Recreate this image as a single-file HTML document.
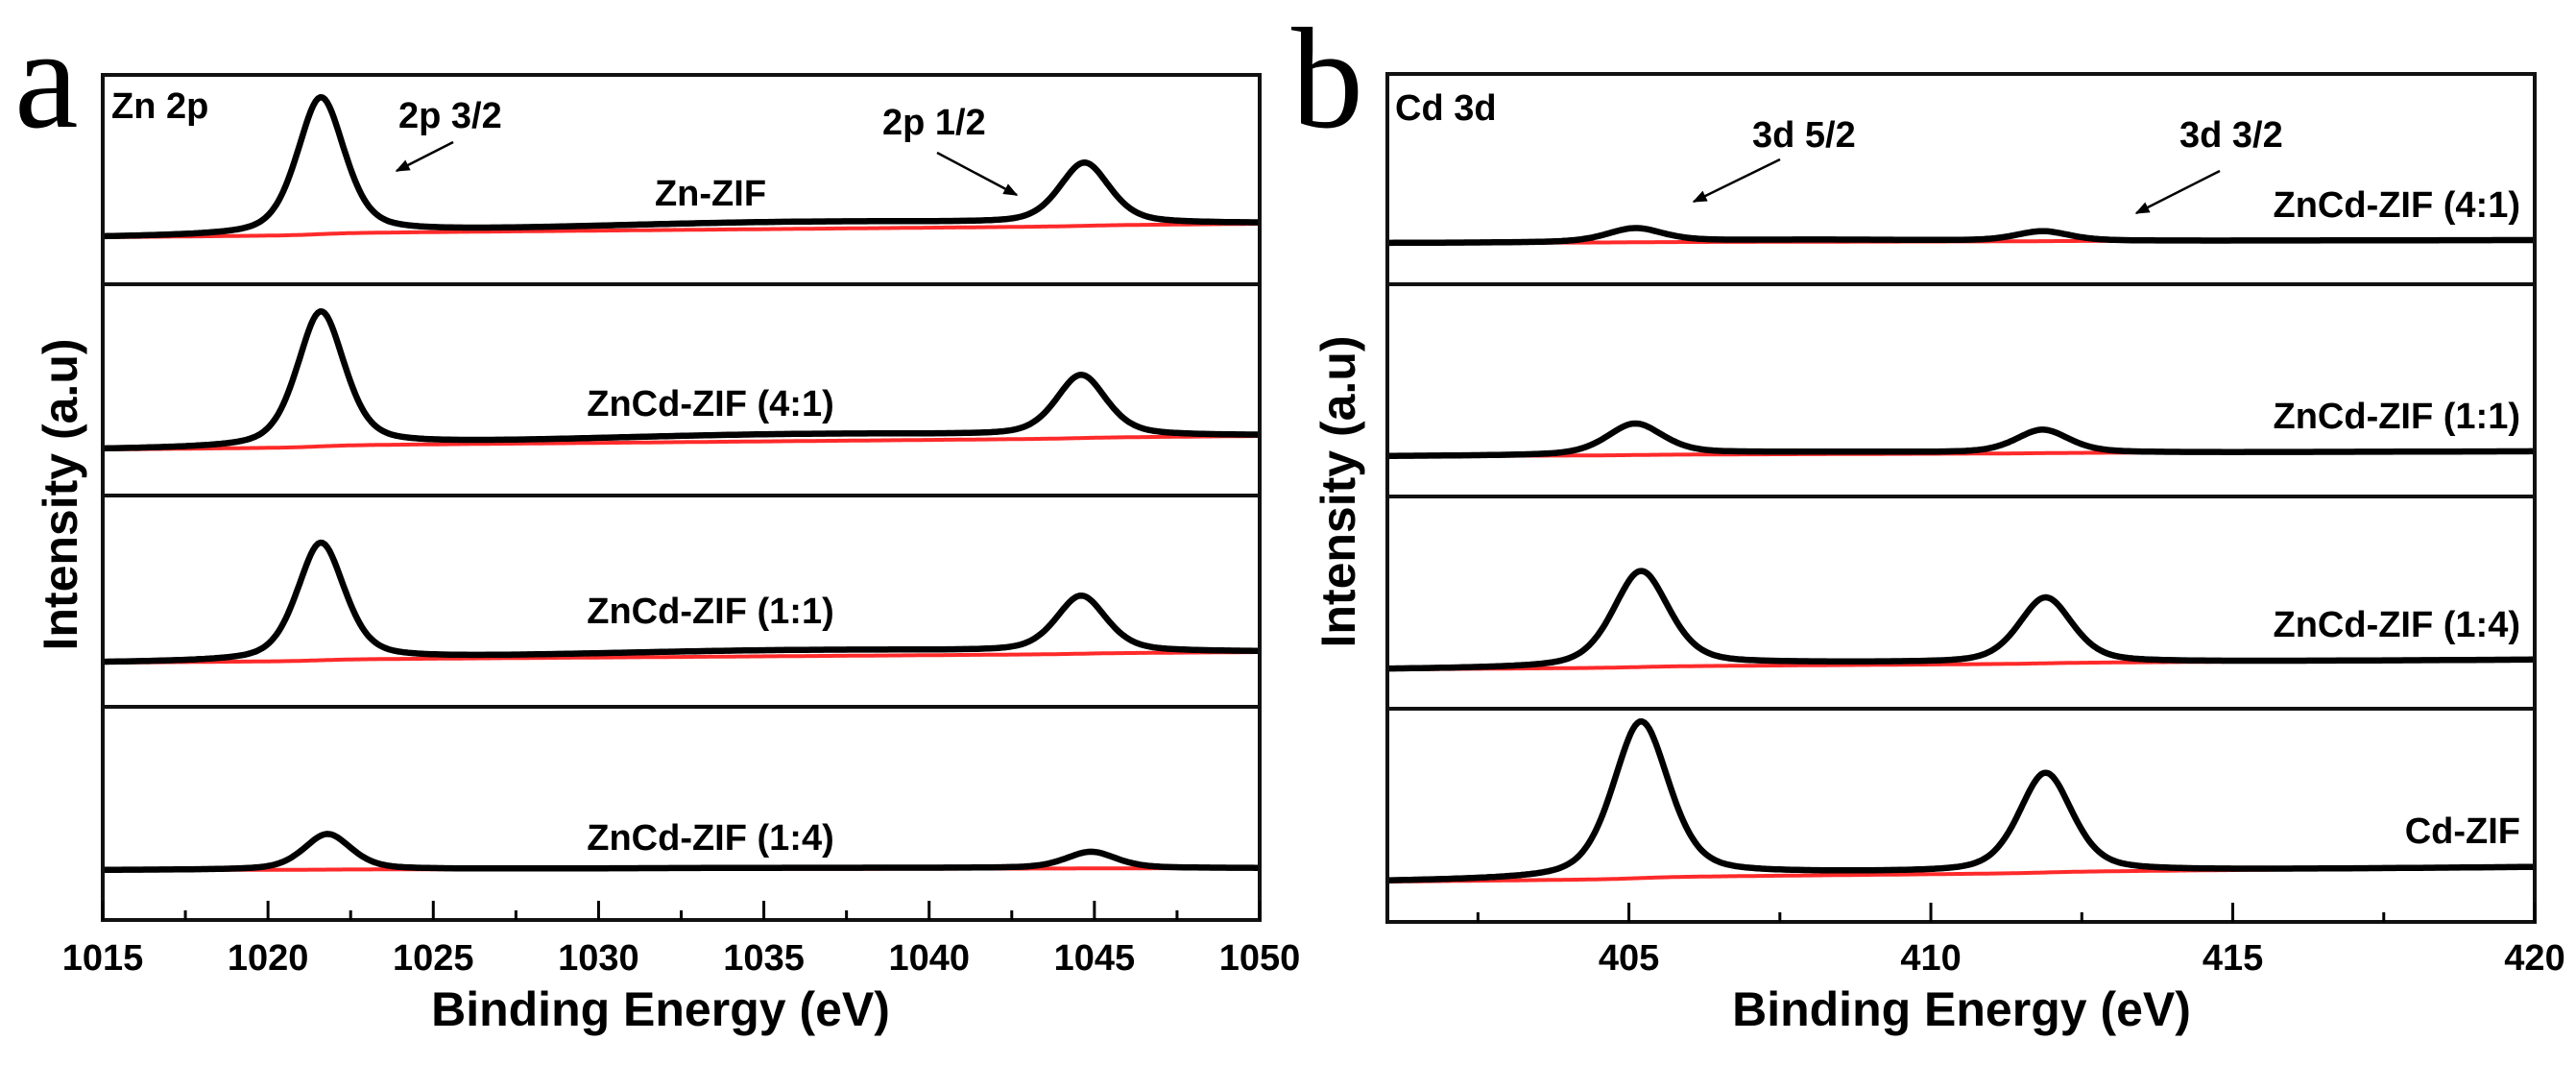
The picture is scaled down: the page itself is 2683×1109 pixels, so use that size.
<!DOCTYPE html>
<html><head><meta charset="utf-8"><style>
html,body{margin:0;padding:0;background:#fff;}
svg{display:block;}
text{font-family:"Liberation Sans",Arial,sans-serif;font-weight:bold;fill:#000;}
</style></head><body>
<svg id="fig" width="2683" height="1109" viewBox="0 0 2683 1109" xmlns="http://www.w3.org/2000/svg">
<defs><marker id="ah" viewBox="0 0 10 10" refX="9" refY="5" markerWidth="6" markerHeight="6" orient="auto"><path d="M0,1 L10,5 L0,9 z" fill="#000"/></marker></defs>
<g id="gA"></g>
<g id="gB"></g>
</svg>
<script>
// ---- Panel a (Zn 2p) data ----
const aTicks = [1015,1020,1025,1030,1035,1040,1045,1050];
const aLabels = ["Zn-ZIF","ZnCd-ZIF (4:1)","ZnCd-ZIF (1:1)","ZnCd-ZIF (1:4)"];
const aCenters = [[1021.6,1044.7],[1021.6,1044.6],[1021.6,1044.6],[1021.8,1044.9]];
const aHeights = [[142,63],[140,63],[122,58],[37,17]];
const aFwhm = [1.7,1.8];
const aBaseStart = [49,48,46,52];
const aBaseEnd = [63,62,57,54];
const aHump = [7,7,6,1];
// ---- Panel b (Cd 3d) data ----
const bTicks = [405,410,415,420];
const bLabels = ["ZnCd-ZIF (4:1)","ZnCd-ZIF (1:1)","ZnCd-ZIF (1:4)","Cd-ZIF"];
const bCenters = [[405.1,411.85],[405.1,411.85],[405.2,411.9],[405.2,411.9]];
const bHeights = [[14,10],[32,24],[99,68],[162,103]];
const bFwhm = [1.1,1.05];
const bBaseStart = [43,42,41,42];
const bBaseEnd = [46,47,51,57];
const bHump = [2,2,2,2];

const NS="http://www.w3.org/2000/svg";
function mk(tag,attrs,parent){const e=document.createElementNS(NS,tag);for(const k in attrs)e.setAttribute(k,attrs[k]);parent.appendChild(e);return e;}

function voigt(x,c,w){const g=Math.exp(-4*Math.LN2*((x-c)/w)**2);const l=1/(1+4*((x-c)/w)**2);return 0.55*g+0.45*l;}

function panel(g,cfg){
  const {x0,x1,e0,e1,tops,bottom,centers,heights,fwhm,bs,be,hump,humpC,humpW,labels,labelX,labelAnchor,labelY,ticks,minorStep,majorStep} = cfg;
  const sx=e=>x0+(e-e0)/(e1-e0)*(x1-x0);
  const subs=tops.map((t,i)=>[t,i<tops.length-1?tops[i+1]:bottom]);
  subs.forEach((s,i)=>{
    const sy=v=>s[1]-v;
    const N=500;
    const pk=[];let tot=0;
    for(let k=0;k<=N;k++){const e=e0+(e1-e0)*k/N;let p=0;centers[i].forEach((c,j)=>{p+=heights[i][j]*voigt(e,c,fwhm[j]);});pk.push(p);tot+=p;}
    let cum=0;let dr="",db="";
    for(let k=0;k<=N;k++){
      const e=e0+(e1-e0)*k/N;cum+=pk[k];
      const lin=(e-e0)/(e1-e0);
      const bg=bs[i]+(be[i]-bs[i])*(0.75*lin+0.25*cum/tot);
      const h=hump[i]*Math.exp(-(((e-humpC)/humpW)**2));
      dr+=(k?"L":"M")+sx(e).toFixed(1)+","+sy(bg).toFixed(1);
      db+=(k?"L":"M")+sx(e).toFixed(1)+","+sy(bg+pk[k]+h).toFixed(1);
    }
    const pr=mk("path",{d:dr,fill:"none",stroke:"#ff2a2a","stroke-width":4},g);
    
    
    const pb=mk("path",{d:db,fill:"none",stroke:"#000","stroke-width":6.5,"stroke-linejoin":"round"},g);
    
    
    const r=mk("rect",{x:x0,y:s[0],width:x1-x0,height:s[1]-s[0],fill:"none",stroke:"#111","stroke-width":4},g);
    
    
    const t=mk("text",{x:labelX,y:labelY[i]+13,"font-size":38,"text-anchor":labelAnchor},g);
    t.textContent=labels[i];
    
    
  });
  for(let e=Math.ceil(e0/minorStep)*minorStep;e<=e1+1e-6;e+=minorStep){
    const major=Math.abs(e/majorStep-Math.round(e/majorStep))<1e-6;
    const tk=mk("line",{x1:sx(e),x2:sx(e),y1:bottom,y2:bottom-(major?20:10),stroke:"#000","stroke-width":3},g);
    
    
  }
  ticks.forEach(v=>{
    const t=mk("text",{x:sx(v),y:1010,"font-size":38,"text-anchor":"middle"},g);
    t.textContent=String(v);
    
    
  });
  return sx;
}

const gA=document.getElementById("gA"), gB=document.getElementById("gB");
panel(gA,{x0:107,x1:1312,e0:1015,e1:1050,tops:[78,296,516,736],bottom:958,centers:aCenters,heights:aHeights,fwhm:aFwhm,bs:aBaseStart,be:aBaseEnd,hump:aHump,humpC:1036,humpW:9,labels:aLabels,labelX:740,labelAnchor:"middle",labelY:[201,420,636,872],ticks:aTicks,minorStep:2.5,majorStep:5});
panel(gB,{x0:1445,x1:2640,e0:401,e1:420,tops:[77,296,517,738],bottom:960,centers:bCenters,heights:bHeights,fwhm:bFwhm,bs:bBaseStart,be:bBaseEnd,hump:bHump,humpC:408,humpW:3,labels:bLabels,labelX:2625,labelAnchor:"end",labelY:[213,433,650,865],ticks:bTicks,minorStep:2.5,majorStep:5});

function txt(g,x,y,s,size,name,extra){const t=mk("text",Object.assign({x:x,y:y,"font-size":size},extra||{}),g);t.textContent=s;return t;}
function arrow(g,x1,y1,x2,y2,name){const l=mk("line",{x1:x1,y1:y1,x2:x2,y2:y2,stroke:"#000","stroke-width":2.5,"marker-end":"url(#ah)"},g);}

txt(gA,15,132,"a",150,"panel-letter-a",{style:"font-family:'Liberation Serif',serif;font-weight:normal"});
txt(gA,116,123,"Zn 2p",38,"element-label-zn2p");
txt(gA,415,133,"2p 3/2",38,"peak-label-2p32");
arrow(gA,472,148,413,178,"arrow-2p32");
txt(gA,919,140,"2p 1/2",38,"peak-label-2p12");
arrow(gA,976,159,1059,203,"arrow-2p12");
txt(gA,688,1068,"Binding Energy (eV)",50,"x-axis-title-a",{"text-anchor":"middle"});
txt(gA,0,0,"Intensity (a.u)",50,"y-axis-title-a",{"text-anchor":"middle",transform:"translate(80,515) rotate(-90)"});

txt(gB,1345,132,"b",150,"panel-letter-b",{style:"font-family:'Liberation Serif',serif;font-weight:normal"});
txt(gB,1453,125,"Cd 3d",38,"element-label-cd3d");
txt(gB,1825,153,"3d 5/2",38,"peak-label-3d52");
arrow(gB,1854,166,1764,210,"arrow-3d52");
txt(gB,2270,153,"3d 3/2",38,"peak-label-3d32");
arrow(gB,2312,178,2225,222,"arrow-3d32");
txt(gB,2043,1068,"Binding Energy (eV)",50,"x-axis-title-b",{"text-anchor":"middle"});
txt(gB,0,0,"Intensity (a.u)",50,"y-axis-title-b",{"text-anchor":"middle",transform:"translate(1411,512) rotate(-90)"});
</script>
</body></html>
